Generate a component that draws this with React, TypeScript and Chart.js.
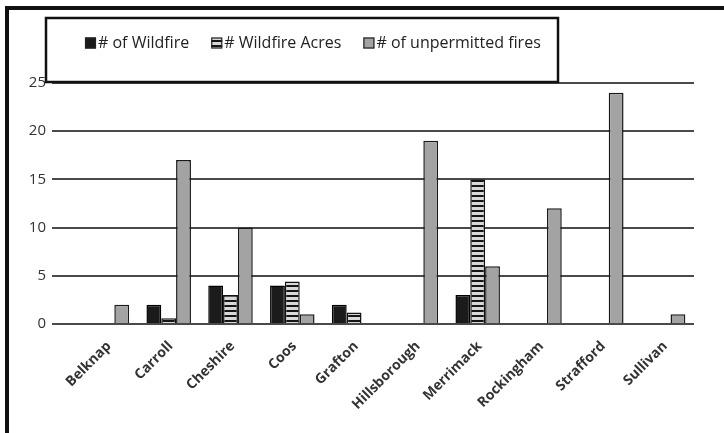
import React, { useEffect, useRef } from "react";
import { Chart, registerables } from "chart.js";
Chart.register(...registerables);

const categories = ["Belknap", "Carroll", "Cheshire", "Coos", "Grafton", "Hillsborough", "Merrimack", "Rockingham", "Strafford", "Sullivan"];
const wildfires = [0, 2, 4, 4, 2, 0, 3, 0, 0, 0];
const wildfireAcres = [0, 0.6, 3, 4.4, 1.2, 0, 15, 0, 0, 0];
const unpermittedFires = [2, 17, 10, 1, 0, 19, 6, 12, 24, 1];
const seriesNames = ["# of Wildfire", "# Wildfire Acres", "# of unpermitted fires"];
const yMin = 0;
const yMax = 25;
const yStep = 5;

function makeStripes(): CanvasPattern | string {
  const c = document.createElement("canvas");
  c.width = 4;
  c.height = 5;
  const g = c.getContext("2d");
  if (!g) return "#333";
  g.fillStyle = "#d8d8d8";
  g.fillRect(0, 0, 4, 5);
  g.fillStyle = "#151515";
  g.fillRect(0, 0, 4, 2);
  const p = g.createPattern(c, "repeat");
  return p || "#333";
}

const boxedLegend = {
  id: "boxedLegend",
  afterDraw(chart: any, _args: any, opts: any) {
    const ctx = chart.ctx as CanvasRenderingContext2D;
    ctx.save();
    ctx.fillStyle = "#fff";
    ctx.fillRect(opts.x, opts.y, opts.w, opts.h);
    ctx.lineWidth = 2.5;
    ctx.strokeStyle = "#111";
    ctx.strokeRect(opts.x, opts.y, opts.w, opts.h);
    ctx.font = opts.font;
    ctx.textBaseline = "middle";
    let cx = opts.startX;
    const s = 11;
    chart.data.datasets.forEach((ds: any) => {
      ctx.fillStyle = ds.backgroundColor;
      ctx.fillRect(cx, opts.textY - s / 2, s, s);
      ctx.strokeStyle = "#222";
      ctx.lineWidth = 1.2;
      ctx.strokeRect(cx + 0.5, opts.textY - s / 2 + 0.5, s - 1, s - 1);
      cx += s + 2;
      ctx.fillStyle = opts.color;
      ctx.fillText(ds.label, cx, opts.textY);
      cx += ctx.measureText(ds.label).width + opts.gap;
    });
    ctx.restore();
  },
};

export default function App() {
  const ref = useRef<HTMLCanvasElement | null>(null);
  useEffect(() => {
    if (!ref.current) return;
    Chart.defaults.font.family = "'Open Sans', sans-serif";
    const stripes = makeStripes();
    const chart = new Chart(ref.current, {
      type: "bar",
      data: {
        labels: categories,
        datasets: [
          { label: seriesNames[0], data: wildfires, backgroundColor: "#1b1b1b", borderColor: "#000", borderWidth: 1.5 },
          { label: seriesNames[1], data: wildfireAcres, backgroundColor: stripes as any, borderColor: "#111", borderWidth: 1.5 },
          { label: seriesNames[2], data: unpermittedFires, backgroundColor: "#a3a3a3", borderColor: "#1a1a1a", borderWidth: 1.5 },
        ],
      },
      options: {
        responsive: false,
        animation: false,
        layout: { padding: { left: 16, right: 30, top: 83, bottom: 5 } },
        datasets: { bar: { categoryPercentage: 0.72, barPercentage: 1 } },
        plugins: {
          legend: { display: false },
          tooltip: { enabled: false },
          boxedLegend: {
            x: 46, y: 18, w: 512, h: 64, startX: 85, textY: 43, gap: 22,
            font: "16px 'Open Sans', sans-serif", color: "#222",
          },
        } as any,
        scales: {
          x: {
            grid: { display: false },
            border: { display: false },
            ticks: {
              minRotation: 45,
              maxRotation: 45,
              color: "#333",
              font: { size: 14, weight: "bold" },
              padding: 6,
              labelOffset: 2,
            },
            afterFit: (scale: any) => { scale.height = 104; },
          },
          y: {
            min: yMin,
            max: yMax,
            border: { display: false },
            grid: { color: "#4a4a4a", lineWidth: 2, tickLength: 24, tickColor: "#4a4a4a" },
            ticks: { stepSize: yStep, color: "#333", font: { size: 15 }, padding: 6 },
            afterFit: (scale: any) => { scale.width = 60; },
          },
        },
      },
      plugins: [boxedLegend],
    });
    return () => chart.destroy();
  }, []);
  return (
    <div style={{ position: "absolute", left: 0, top: 0, width: 724, height: 433, background: "#fff" }}>
      <canvas ref={ref} width={724} height={433} style={{ position: "absolute", left: 0, top: 0 }} />
      <div
        style={{
          position: "absolute", left: 5, top: 6, width: 719, height: 427,
          borderTop: "4px solid #111", borderLeft: "4px solid #111", boxSizing: "border-box", pointerEvents: "none",
        }}
      />
    </div>
  );
}
